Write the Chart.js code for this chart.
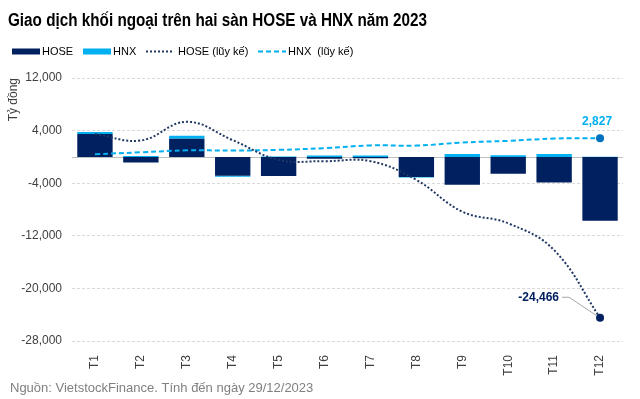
<!DOCTYPE html>
<html>
<head>
<meta charset="utf-8">
<script src="https://cdn.jsdelivr.net/npm/chart.js@4"></script>
<style>
  html, body { margin: 0; padding: 0; background: #fff; }
  #wrap { position: relative; width: 640px; height: 399px; }
</style>
</head>
<body>
<div id="wrap"><canvas id="chart" width="640" height="399"></canvas></div>
<script>
// Chart data (tỷ đồng)
const months = ["T1", "T2", "T3", "T4", "T5", "T6", "T7", "T8", "T9", "T10", "T11", "T12"];
const hoseNet = [3500, -870, 2750, -2850, -2900, -300, -200, -3050, -4220, -2550, -3900, -9700];
const hnxNet = [300, 150, 450, -150, 50, 200, 200, -100, 450, 250, 450, 30];
const hoseCum = [3500, 2500, 5340, 2550, -450, -650, -650, -3500, -8330, -10100, -14180, -24466];
const hnxCum = [400, 700, 1000, 960, 1070, 1330, 1750, 1720, 2180, 2440, 2790, 2827];
const yTicks = [12000, 4000, -4000, -12000, -20000, -28000];

const NAVY = "#002060";
const CYAN = "#00B0F0";
const FONT = "'Liberation Sans', Arial, sans-serif";

const lastOnly = (arr, r) => arr.map((v, i) => (i === arr.length - 1 ? r : 0));
const fmt = (v) => v.toLocaleString("en-US");

// title, legend, footer, zero line and end labels
const decor = {
  id: "decor",
  beforeDatasetsDraw(chart) {
    const { ctx, chartArea, scales } = chart;
    const y0 = scales.y.getPixelForValue(0);
    ctx.save();
    ctx.strokeStyle = "#BFBFBF";
    ctx.lineWidth = 1;
    ctx.beginPath();
    ctx.moveTo(chartArea.left, Math.round(y0) + 0.5);
    ctx.lineTo(chartArea.right, Math.round(y0) + 0.5);
    ctx.stroke();
    ctx.restore();
  },
  afterDraw(chart) {
    const { ctx } = chart;
    ctx.save();

    // title
    const title = "Giao dịch khối ngoại trên hai sàn HOSE và HNX năm 2023";
    ctx.font = "bold 18px " + FONT;
    ctx.fillStyle = "#000";
    ctx.textBaseline = "alphabetic";
    ctx.textAlign = "left";
    const tw = ctx.measureText(title).width;
    const sx = Math.min(1, 419 / tw);
    ctx.save();
    ctx.translate(8, 25.5);
    ctx.scale(sx, 1);
    ctx.fillText(title, 0, 0);
    ctx.restore();

    // legend
    const ly = 51.5;
    const ds = chart.data.datasets;
    const items = [
      { x: 12, tx: 42, kind: "box" },
      { x: 83, tx: 113, kind: "box" },
      { x: 146, tx: 178, kind: "line" },
      { x: 258, tx: 288, kind: "line" }
    ];
    ctx.font = "11px " + FONT;
    ctx.textBaseline = "middle";
    items.forEach((it, i) => {
      const d = ds[i];
      if (it.kind === "box") {
        ctx.fillStyle = d.backgroundColor;
        ctx.fillRect(it.x, ly - 3, 28, 6);
      } else {
        ctx.strokeStyle = d.borderColor;
        ctx.lineWidth = 2;
        ctx.setLineDash(d.borderDash);
        ctx.beginPath();
        ctx.moveTo(it.x, ly);
        ctx.lineTo(it.x + 28, ly);
        ctx.stroke();
        ctx.setLineDash([]);
      }
      ctx.fillStyle = "#000";
      ctx.fillText(d.label, it.tx, ly);
    });

    // end labels
    const mH = chart.getDatasetMeta(2).data;
    const mN = chart.getDatasetMeta(3).data;
    const pH = mH[mH.length - 1];
    const pN = mN[mN.length - 1];
    ctx.font = "bold 12px " + FONT;
    ctx.fillStyle = CYAN;
    ctx.textAlign = "center";
    ctx.fillText(fmt(hnxCum[hnxCum.length - 1]), pN.x - 3, pN.y - 17);

    ctx.strokeStyle = "#A6A6A6";
    ctx.lineWidth = 1;
    ctx.beginPath();
    ctx.moveTo(pH.x - 38, pH.y - 20.5);
    ctx.lineTo(pH.x - 31, pH.y - 20.5);
    ctx.lineTo(pH.x - 4, pH.y - 2.5);
    ctx.stroke();
    ctx.fillStyle = NAVY;
    ctx.textAlign = "right";
    ctx.fillText(fmt(hoseCum[hoseCum.length - 1]), pH.x - 41, pH.y - 20.5);

    // footer
    ctx.font = "13px " + FONT;
    ctx.fillStyle = "#808080";
    ctx.textAlign = "left";
    ctx.fillText("Nguồn: VietstockFinance. Tính đến ngày 29/12/2023", 10, 388);

    ctx.restore();
  }
};

new Chart(document.getElementById("chart"), {
  type: "bar",
  data: {
    labels: months,
    datasets: [
      {
        label: "HOSE",
        data: hoseNet,
        backgroundColor: NAVY,
        stack: "bars",
        order: 3
      },
      {
        label: "HNX",
        data: hnxNet,
        backgroundColor: CYAN,
        stack: "bars",
        order: 3
      },
      {
        type: "line",
        label: "HOSE (lũy kế)",
        data: hoseCum,
        borderColor: "#203864",
        borderWidth: 2,
        borderDash: [2, 2],
        tension: 0.4,
        pointRadius: lastOnly(hoseCum, 4),
        pointBackgroundColor: NAVY,
        pointBorderWidth: 0,
        stack: "l1",
        order: 1
      },
      {
        type: "line",
        label: "HNX  (lũy kế)",
        data: hnxCum,
        borderColor: CYAN,
        borderWidth: 2,
        borderDash: [5, 3],
        tension: 0.4,
        pointRadius: lastOnly(hnxCum, 4),
        pointBackgroundColor: "#0070C0",
        pointBorderWidth: 0,
        stack: "l2",
        order: 2
      }
    ]
  },
  options: {
    responsive: false,
    animation: false,
    layout: { padding: { left: 6, right: 17, top: 78, bottom: 0 } },
    datasets: {
      bar: { categoryPercentage: 1, barPercentage: 0.77 }
    },
    plugins: {
      legend: { display: false },
      title: { display: false },
      tooltip: { enabled: false }
    },
    scales: {
      x: {
        stacked: true,
        grid: { display: false },
        border: { display: false },
        ticks: {
          minRotation: 90,
          maxRotation: 90,
          autoSkip: false,
          padding: 6,
          color: "#404040",
          font: { family: FONT, size: 12 }
        },
        afterFit(scale) { scale.height = 58; }
      },
      y: {
        stacked: true,
        min: -28000,
        max: 12000,
        afterBuildTicks(scale) {
          scale.ticks = yTicks.map((v) => ({ value: v }));
        },
        grid: { color: "#D9D9D9", lineWidth: 1, drawTicks: false },
        border: { display: false, dash: [3, 2] },
        ticks: {
          padding: 10,
          color: "#404040",
          font: { family: FONT, size: 12 },
          callback: (v) => fmt(v)
        },
        title: {
          display: true,
          text: "Tỷ đồng",
          align: "end",
          padding: 0,
          color: "#404040",
          font: { family: FONT, size: 12 }
        },
        afterFit(scale) { scale.width = 66; }
      }
    }
  },
  plugins: [decor]
});
</script>
</body>
</html>
